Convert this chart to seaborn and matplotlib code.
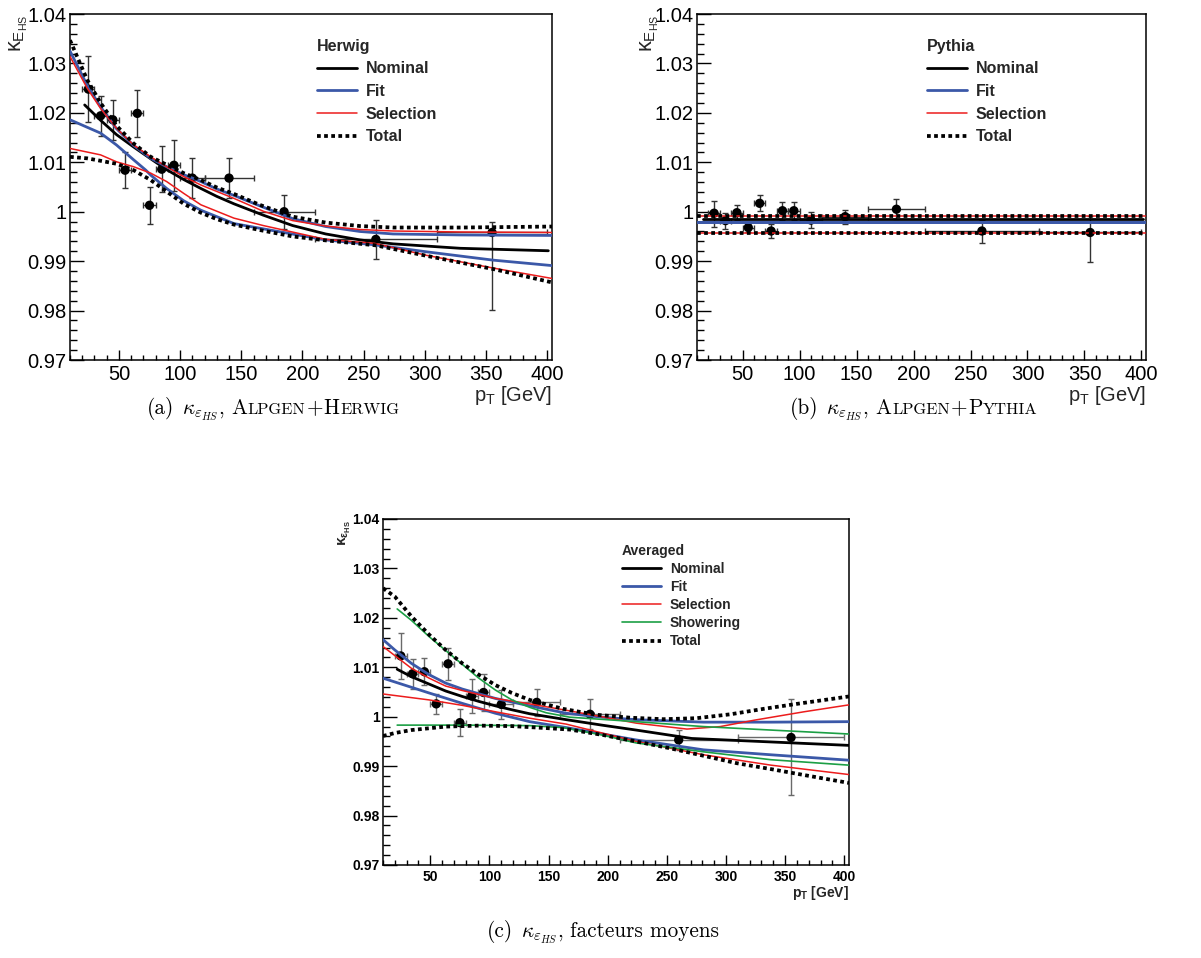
import matplotlib
matplotlib.use("Agg")
import matplotlib.pyplot as plt
from matplotlib.lines import Line2D
from matplotlib.ticker import MultipleLocator, FuncFormatter
from matplotlib.transforms import IdentityTransform
import seaborn as sns

# --- data: binned kappa points (same pT bins for all three panels) ---
pt_x = [25, 35, 45, 55, 65, 75, 85, 95, 110, 140, 185, 260, 355]
pt_xerr = [5, 5, 5, 5, 5, 5, 5, 5, 10, 20, 25, 50, 45]

hw_y = [1.0248, 1.0194, 1.0186, 1.0084, 1.0199, 1.0013, 1.0086, 1.0094, 1.0068, 1.0068, 1.0000, 0.9944, 0.9958]
hw_err_lo = [0.0067, 0.0040, 0.0040, 0.0037, 0.0047, 0.0037, 0.0047, 0.0052, 0.0040, 0.0040, 0.0034, 0.0040, 0.0156]
hw_err_hi = [0.0067, 0.0040, 0.0040, 0.0037, 0.0047, 0.0037, 0.0047, 0.0052, 0.0040, 0.0040, 0.0034, 0.0040, 0.0022]

py_y = [0.9997, 0.9982, 0.9998, 0.9968, 1.0017, 0.9961, 1.0002, 1.0002, 0.9983, 0.9990, 1.0005, 0.9961, 0.9958]
py_err_lo = [0.0027, 0.0016, 0.0015, 0.0010, 0.0016, 0.0015, 0.0018, 0.0018, 0.0016, 0.0014, 0.0020, 0.0025, 0.0059]
py_err_hi = [0.0025, 0.0016, 0.0015, 0.0010, 0.0016, 0.0015, 0.0018, 0.0018, 0.0016, 0.0014, 0.0020, 0.0022, 0.0033]

av_y = [1.0123, 1.0087, 1.0091, 1.0026, 1.0107, 0.9988, 1.0042, 1.0049, 1.0025, 1.0029, 1.0005, 0.9953, 0.9958]
av_err_lo = [0.0047, 0.0030, 0.0027, 0.0020, 0.0032, 0.0027, 0.0034, 0.0037, 0.0030, 0.0027, 0.0030, 0.0020, 0.0116]
av_err_hi = [0.0047, 0.0030, 0.0027, 0.0020, 0.0032, 0.0027, 0.0034, 0.0037, 0.0030, 0.0027, 0.0030, 0.0020, 0.0078]

# --- Herwig curves ---
hw_nom_x = [22, 35, 48, 62, 76, 89, 103, 117, 130, 144, 168, 192, 219, 247, 274, 329, 401]
hw_nom_y = [1.0216, 1.0185, 1.0156, 1.0131, 1.0107, 1.0085, 1.0065, 1.0047, 1.0031, 1.0016, 0.9993, 0.9972, 0.9955, 0.9943, 0.9935, 0.9926, 0.9921]
hw_fit_up_x = [10, 24, 35, 48, 62, 76, 89, 103, 117, 130, 144, 165, 192, 219, 247, 274, 329, 404]
hw_fit_up_y = [1.0325, 1.0256, 1.0212, 1.0168, 1.0134, 1.0108, 1.0091, 1.0075, 1.0061, 1.0046, 1.0033, 1.0012, 0.9986, 0.9970, 0.9960, 0.9955, 0.9953, 0.9952]
hw_fit_dn_x = [10, 35, 48, 62, 72, 76, 89, 103, 117, 144, 171, 219, 259, 301, 356, 404]
hw_fit_dn_y = [1.0186, 1.0159, 1.0135, 1.0105, 1.0084, 1.0074, 1.0047, 1.0022, 1.0003, 0.9976, 0.9964, 0.9943, 0.9933, 0.9919, 0.9902, 0.9891]
hw_sel_up_x = [10, 24, 35, 48, 62, 76, 89, 103, 117, 144, 168, 192, 219, 247, 274, 329, 404]
hw_sel_up_y = [1.0314, 1.0250, 1.0209, 1.0169, 1.0135, 1.0111, 1.0091, 1.0071, 1.0054, 1.0027, 1.0001, 0.9982, 0.9971, 0.9964, 0.9961, 0.9959, 0.9958]
hw_sel_dn_x = [10, 35, 48, 62, 76, 89, 103, 117, 144, 168, 219, 259, 301, 356, 404]
hw_sel_dn_y = [1.0128, 1.0115, 1.0101, 1.0091, 1.0078, 1.0061, 1.0037, 1.0014, 0.9987, 0.9972, 0.9944, 0.9936, 0.9912, 0.9886, 0.9865]
hw_tot_up_x = [10, 24, 35, 48, 62, 76, 89, 103, 117, 130, 144, 165, 192, 219, 247, 274, 329, 404]
hw_tot_up_y = [1.0347, 1.0267, 1.0220, 1.0174, 1.0138, 1.0111, 1.0095, 1.0078, 1.0064, 1.0049, 1.0036, 1.0014, 0.9990, 0.9978, 0.9971, 0.9968, 0.9968, 0.9970]
hw_tot_dn_x = [10, 24, 35, 48, 62, 76, 90, 103, 117, 130, 144, 165, 192, 219, 260, 301, 356, 404]
hw_tot_dn_y = [1.0111, 1.0108, 1.0103, 1.0097, 1.0084, 1.0064, 1.0039, 1.0016, 0.9998, 0.9985, 0.9974, 0.9963, 0.9950, 0.9942, 0.9932, 0.9911, 0.9884, 0.9857]

# --- Pythia curves (flat) ---
py_nom_x = [15, 401]
py_nom_y = [0.99845, 0.99845]
py_full_x = [10, 404]
py_fit_up_y = [0.99800, 0.99800]
py_fit_dn_y = [0.99785, 0.99785]
py_sel_up_y = [0.99905, 0.99905]
py_sel_dn_y = [0.99570, 0.99570]
py_tot_up_y = [0.99910, 0.99910]
py_tot_dn_y = [0.99568, 0.99568]

# --- Averaged curves ---
av_nom_x = [22, 34, 49, 63, 77, 91, 105, 119, 134, 165, 195, 224, 271, 309, 366, 404]
av_nom_y = [1.0096, 1.0081, 1.0066, 1.0052, 1.0041, 1.0031, 1.0022, 1.0014, 1.0006, 0.9994, 0.9983, 0.9973, 0.9956, 0.9952, 0.9946, 0.9942]
av_fit_up_x = [10, 20, 34, 49, 63, 77, 105, 134, 165, 195, 224, 281, 338, 404]
av_fit_up_y = [1.0156, 1.0135, 1.0108, 1.0085, 1.0068, 1.0056, 1.0037, 1.0022, 1.0007, 0.9999, 0.9994, 0.9989, 0.9989, 0.9990]
av_fit_dn_x = [10, 49, 77, 105, 134, 165, 224, 281, 338, 404]
av_fit_dn_y = [1.0078, 1.0048, 1.0027, 1.0007, 0.9990, 0.9978, 0.9953, 0.9933, 0.9923, 0.9912]
av_sel_up_x = [10, 34, 49, 63, 77, 105, 134, 165, 195, 224, 267, 295, 324, 366, 404]
av_sel_up_y = [1.0142, 1.0098, 1.0078, 1.0062, 1.0053, 1.0037, 1.0026, 1.0013, 1.0000, 0.9987, 0.9975, 0.9980, 0.9993, 1.0010, 1.0024]
av_sel_dn_x = [10, 49, 77, 105, 134, 165, 224, 281, 338, 404]
av_sel_dn_y = [1.0046, 1.0034, 1.0023, 1.0010, 0.9997, 0.9985, 0.9950, 0.9923, 0.9902, 0.9883]
av_show_up_x = [22, 34, 49, 63, 77, 91, 105, 119, 134, 148, 168, 224, 281, 338, 404]
av_show_up_y = [1.0218, 1.0195, 1.0162, 1.0134, 1.0106, 1.0078, 1.0054, 1.0034, 1.0019, 1.0008, 0.9999, 0.9990, 0.9980, 0.9973, 0.9965]
av_show_dn_x = [22, 77, 134, 162, 195, 224, 281, 338, 404]
av_show_dn_y = [0.9983, 0.9983, 0.9982, 0.9978, 0.9963, 0.9947, 0.9929, 0.9913, 0.9902]
av_tot_up_x = [10, 20, 34, 49, 63, 77, 91, 105, 119, 134, 162, 190, 219, 247, 275, 304, 332, 360, 404]
av_tot_up_y = [1.0260, 1.0243, 1.0203, 1.0166, 1.0135, 1.0108, 1.0085, 1.0064, 1.0048, 1.0034, 1.0016, 1.0004, 0.9998, 0.9995, 0.9997, 1.0005, 1.0016, 1.0026, 1.0041]
av_tot_dn_x = [10, 20, 34, 63, 91, 119, 148, 168, 196, 224, 253, 281, 309, 338, 366, 404]
av_tot_dn_y = [0.9961, 0.9967, 0.9973, 0.9980, 0.9982, 0.9981, 0.9977, 0.9974, 0.9963, 0.9950, 0.9936, 0.9921, 0.9906, 0.9894, 0.9882, 0.9866]

legend_labels = ["Nominal", "Fit", "Selection", "Total"]
legend_labels_avg = ["Nominal", "Fit", "Selection", "Showering", "Total"]

# --- style ---
sns.set_theme(style="white")
plt.rcParams["font.family"] = ["Liberation Sans", "DejaVu Sans"]
plt.rcParams["mathtext.fontset"] = "custom"
plt.rcParams["mathtext.rm"] = "Liberation Sans"
plt.rcParams["mathtext.it"] = "Liberation Sans:italic"
plt.rcParams["mathtext.bf"] = "Liberation Sans:bold"

BLUE = "#3b58a8"
RED = "#ec1c1c"
GREEN = "#1c9f45"
STYLES = {
    "nom": dict(color="black", lw=2.0),
    "fit": dict(color=BLUE, lw=2.0),
    "sel": dict(color=RED, lw=1.1),
    "show": dict(color=GREEN, lw=1.2),
    "tot": dict(color="black", lw=2.7, linestyle=(0, (1.0, 0.9)), dash_capstyle="butt"),
}

fig = plt.figure(figsize=(12.01, 9.58), dpi=100)
W, H = 1201, 958


def px_axes(left, top, right, bottom):
    return fig.add_axes([left / W, 1 - bottom / H, (right - left) / W, (bottom - top) / H])


def draw_panel(ax, ys, lo, hi, curves, title, labels, keys, bold, fs_tick, fs_leg, ecol,
               ylab, ylab_x, fs_ylab, xlab_y, leg_x, hlen, hpad, lspace):
    ax.errorbar(pt_x, ys, xerr=pt_xerr, yerr=[lo, hi], fmt="none", ecolor=ecol,
                elinewidth=1.0, capsize=2, capthick=1.0, zorder=1)
    sns.scatterplot(x=pt_x, y=ys, color="black", s=45, edgecolor="none", zorder=1.5, ax=ax)
    for cx, cy, key in curves:
        sns.lineplot(x=cx, y=cy, ax=ax, zorder=3, **STYLES[key])

    ax.set_xlim(10, 404)
    ax.set_ylim(0.97, 1.04)
    ax.xaxis.set_major_locator(MultipleLocator(50))
    ax.xaxis.set_minor_locator(MultipleLocator(10))
    ax.yaxis.set_major_locator(MultipleLocator(0.01))
    ax.yaxis.set_minor_locator(MultipleLocator(0.002))
    ax.yaxis.set_major_formatter(FuncFormatter(lambda v, p: f"{v:g}"))
    ax.tick_params(axis="both", which="both", direction="in", top=False, right=False,
                   left=True, bottom=True, color="black", width=1.0, labelsize=fs_tick,
                   labelcolor="black")
    ax.tick_params(axis="y", which="major", length=10, pad=2.5)
    ax.tick_params(axis="y", which="minor", length=5)
    ax.tick_params(axis="x", which="major", length=7.5, pad=3.5)
    ax.tick_params(axis="x", which="minor", length=3.6)
    for sp in ax.spines.values():
        sp.set_color("black")
        sp.set_linewidth(1.1)
    ax.grid(False)
    ax.set_xlabel("")
    ax.set_ylabel("")

    weight = "bold" if bold else "normal"
    sub = r"\mathbf{T}" if bold else r"\mathrm{T}"
    ax.text(1.0, xlab_y, "p$_{" + sub + "}$ [GeV]", transform=ax.transAxes, ha="right",
            va="top", fontsize=fs_tick, fontweight=weight)
    ax.text(ylab_x, 0.997, ylab, transform=ax.transAxes, rotation=90, ha="left", va="top",
            fontsize=fs_ylab, fontweight=weight)

    handles = [Line2D([], [], **STYLES[k]) for k in keys]
    ax.legend(handles, labels, title=title, loc="upper left", bbox_to_anchor=(leg_x, 0.929),
              frameon=False, borderpad=0, borderaxespad=0, handlelength=hlen,
              handletextpad=hpad, labelspacing=lspace, alignment="left",
              prop={"weight": "bold", "size": fs_leg},
              title_fontproperties={"weight": "bold", "size": fs_leg})


ax_a = px_axes(70, 14, 552, 360)
ax_b = px_axes(697, 14, 1146, 360)
ax_c = px_axes(383, 519, 849, 865)

draw_panel(ax_a, hw_y, hw_err_lo, hw_err_hi,
           [(hw_nom_x, hw_nom_y, "nom"),
            (hw_fit_up_x, hw_fit_up_y, "fit"), (hw_fit_dn_x, hw_fit_dn_y, "fit"),
            (hw_sel_up_x, hw_sel_up_y, "sel"), (hw_sel_dn_x, hw_sel_dn_y, "sel"),
            (hw_tot_up_x, hw_tot_up_y, "tot"), (hw_tot_dn_x, hw_tot_dn_y, "tot")],
           "Herwig", legend_labels, ["nom", "fit", "sel", "tot"], False, 14.5, 11.5, "#333333",
           r"$\mathrm{\kappa}_{\mathrm{E}_{\mathrm{HS}}}$", -0.128, 15.5, -0.068,
           0.512, 2.5, 0.55, 0.48)

draw_panel(ax_b, py_y, py_err_lo, py_err_hi,
           [(py_nom_x, py_nom_y, "nom"),
            (py_full_x, py_fit_up_y, "fit"), (py_full_x, py_fit_dn_y, "fit"),
            (py_full_x, py_sel_up_y, "sel"), (py_full_x, py_sel_dn_y, "sel"),
            (py_full_x, py_tot_up_y, "tot"), (py_full_x, py_tot_dn_y, "tot")],
           "Pythia", legend_labels, ["nom", "fit", "sel", "tot"], False, 14.5, 11.5, "#333333",
           r"$\mathrm{\kappa}_{\mathrm{E}_{\mathrm{HS}}}$", -0.130, 15.5, -0.068,
           0.512, 2.5, 0.55, 0.48)

draw_panel(ax_c, av_y, av_err_lo, av_err_hi,
           [(av_nom_x, av_nom_y, "nom"),
            (av_fit_up_x, av_fit_up_y, "fit"), (av_fit_dn_x, av_fit_dn_y, "fit"),
            (av_sel_up_x, av_sel_up_y, "sel"), (av_sel_dn_x, av_sel_dn_y, "sel"),
            (av_show_up_x, av_show_up_y, "show"), (av_show_dn_x, av_show_dn_y, "show"),
            (av_tot_up_x, av_tot_up_y, "tot"), (av_tot_dn_x, av_tot_dn_y, "tot")],
           "Averaged", legend_labels_avg, ["nom", "fit", "sel", "show", "tot"], True, 10, 10,
           "#6a6a6a", r"$\mathbf{\kappa}_{\mathbf{\epsilon}_{\mathbf{HS}}}$", -0.099, 11, -0.056,
           0.513, 2.8, 0.65, 0.3)

fig.canvas.draw()
for lbl in ax_c.get_xticklabels() + ax_c.get_yticklabels():
    lbl.set_fontweight("bold")

# --- captions (serif, small caps built from pieces) ---
renderer = fig.canvas.get_renderer()


def caption(x, y_img, pieces):
    cur = x
    for text, size, gap in pieces:
        cur += gap * size * 100 / 72
        t = fig.text(cur, H - y_img, text, fontsize=size, family="cmr10", math_fontfamily="cm",
                     ha="left", va="baseline", color="black", transform=IdentityTransform())
        cur = t.get_window_extent(renderer).x1


KAPPA = r"$\kappa_{\varepsilon_{HS}}$"
CAP, SC = 15.3, 11.8
caption(147, 414, [("(a)", CAP, 0), (KAPPA, CAP, 0.35), (",", CAP, 0), ("A", CAP, 0.35),
                   ("LPGEN", SC, 0.03), ("+", CAP, 0.03), ("H", CAP, 0.03), ("ERWIG", SC, 0.03)])
caption(790, 414, [("(b)", CAP, 0), (KAPPA, CAP, 0.35), (",", CAP, 0), ("A", CAP, 0.35),
                   ("LPGEN", SC, 0.03), ("+", CAP, 0.03), ("P", CAP, 0.03), ("YTHIA", SC, 0.03)])
caption(487, 937, [("(c)", CAP, 0), (KAPPA, CAP, 0.35), (",", CAP, 0), ("facteurs moyens", CAP, 0.35)])

fig.savefig("out.png", dpi=100)
